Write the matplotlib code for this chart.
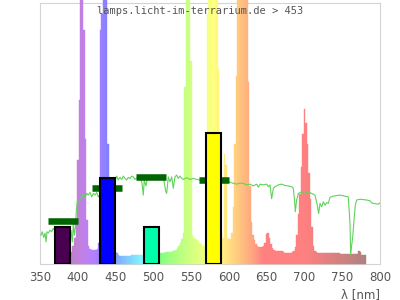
import matplotlib
matplotlib.use("Agg")
import matplotlib.pyplot as plt
import numpy as np

# lamp spectrum, 2 nm bins from 390 to 780 nm (100 = top of frame)
wavelength = np.arange(390, 782, 2)
intensity = [
    4, 4.5, 7, 10, 16, 40, 63, 150, 150, 90,
    48, 17, 7, 5.5, 5.2, 5.2, 5.2, 5.2, 5.5, 8,
    90, 96, 150, 150, 150, 46, 20, 8, 6, 5,
    4.5, 4, 3.5, 3, 3, 3, 3, 3, 3, 3,
    3, 3.2, 3.3, 3.3, 3.3, 3.3, 3.3, 3.3, 3.5, 3.8,
    4, 4, 4, 4, 4, 4, 4, 4, 4.1, 4.2,
    4.2, 4.3, 4.3, 4.4, 4.4, 4.5, 4.6, 4.7, 4.8, 4.9,
    5.2, 6, 7, 8, 9.5, 12, 68, 150, 150, 150,
    78, 11, 10, 9.5, 9, 8.5, 8, 7.5, 7, 7,
    8, 96, 150, 150, 150, 150, 150, 150, 75, 25,
    12, 10, 42, 38, 10, 9.5, 9.5, 12, 22, 46,
    72, 150, 150, 150, 150, 150, 150, 150, 70, 30,
    16, 11, 9, 7.5, 6.8, 6.5, 6.5, 6.5, 6.8, 8,
    11.5, 12, 10, 7.5, 6, 5.3, 5, 5, 5, 5,
    4.8, 4.4, 4.3, 4.3, 4.3, 4.3, 4.3, 4.5, 5, 6.5,
    11, 19, 27, 37, 50, 59.5, 54, 46, 35, 25,
    14, 7, 5, 4.5, 4, 4, 4, 4, 4, 4,
    4, 4, 4, 4, 4, 4, 4, 4, 4, 3.7,
    3.7, 3.7, 3.7, 3.7, 3.7, 3.7, 3.7, 3.7, 3.7, 3.7,
    3.7, 4.8, 4.5, 3.5, 3.5, 3.5,
]

# reference (daylight) curve
ref_nm = [351.3, 353, 354.9, 356.6, 358, 359.3, 361, 363.2, 365.4, 367.6, 369,
          375, 380, 385, 389,
          391, 392.8, 394.1, 395.4, 396.8, 398.1, 399.4, 400.7, 402.9, 405.2,
          407.3, 409.6, 411.8, 413.9, 416.2, 418.4, 420.5, 422.8, 425, 427.2,
          432, 436, 440, 444, 448,
          451.5, 453.6, 455.9, 458.1, 460.3, 462.5, 464.7, 466.9, 469.1, 471.4,
          473.5, 475.7, 478, 482, 485, 486.7, 488, 490.3, 492, 496, 500, 505,
          510, 514, 516.3, 517.6, 519.8, 522, 524.3, 526.4, 528.7, 530.9, 533,
          535.3, 537.5, 539.7, 544.1, 548.5, 552.9, 557.4, 565, 575, 585, 595,
          600.2, 605, 610.3, 615, 619.1, 623.5, 627.9, 632.3, 636.8, 638.9,
          641.2, 645.5, 650, 652.2, 654.4, 656.6, 658.8, 661, 665.4, 669.9,
          674.2, 678.6, 683.1, 685.2, 687.1, 687.9, 689.7, 691.9, 696.3, 700.7,
          705.1, 709.6, 713.9, 717, 718.8, 720.6, 722.8, 725, 727.2, 729.4,
          731.6, 733.8, 738.2, 747, 753.7, 758, 760.3, 761.2, 762.5, 763.9,
          765.6, 767.3, 769.2, 773.5, 782.4, 786.7, 789, 793.4, 797.7, 800]
ref_val = [11, 12.3, 10.1, 11.8, 8.4, 12.3, 11.8, 12.9, 12.3, 13.6, 12.9,
           13, 12, 13, 12,
           12.9, 8.4, 15.5, 11, 14.2, 20.6, 23.8, 23.2, 24.5, 25.7,
           27, 25.5, 27, 26.4, 27.4, 25.7, 27, 26.4, 27.4, 25.7,
           28, 27, 29, 30, 31,
           33.7, 32.2, 33.2, 32.4, 33.7, 32.8, 32.2, 33.2, 32.7, 33.7,
           33.4, 32.4, 33, 33.5, 31, 26.4, 32, 29.9, 33, 33.5, 33, 33.3,
           33, 32, 28, 27, 33.4, 31.5, 33.4, 29, 33.4, 34.1, 32.8,
           33.7, 32.8, 32.4, 33.1, 32.4, 32.8, 32.4, 32, 32, 31.5, 31.5,
           31.5, 31, 30.6, 31, 30.9, 30.3, 30.6, 29.9, 30.6, 29.4,
           30.6, 30.3, 30.6, 29.6, 30.3, 25, 29, 29.6, 30.3, 30.6,
           30.1, 29.9, 29.6, 29, 23.8, 20, 24.5, 27, 27.7, 27,
           27.7, 27, 26.4, 22.5, 19.3, 23.2, 21.9, 23.8, 22.5, 23.5,
           23.2, 25.5, 26, 26.4, 26, 25.7, 15.5, 3.3, 7.1, 10.3,
           16.8, 22.5, 24.5, 24.8, 24.5, 24.2, 23.4, 23.1, 22.9, 23.4]

# measured bands
band_center = [380, 439, 497, 580]
band_value = [14, 32.8, 14.1, 50.2]
band_target = [16.5, 29, 33.2, 32.1]
band_color = ['#4a0050', '#0000ff', '#00ffaa', '#ffff00']


def wl_rgb(w):
    if w < 440:
        r, g, b = (440 - w) / 60, 0, 1
    elif w < 490:
        r, g, b = 0, (w - 440) / 50, 1
    elif w < 510:
        r, g, b = 0, 1, (510 - w) / 20
    elif w < 580:
        r, g, b = (w - 510) / 70, 1, 0
    elif w < 645:
        r, g, b = 1, (645 - w) / 65, 0
    else:
        r, g, b = 1, 0, 0
    if w < 420:
        f = 0.3 + 0.7 * (w - 380) / 40
    elif w > 700:
        f = 0.3 + 0.7 * (780 - w) / 80
    else:
        f = 1
    rgb = np.array([(max(c, 0) * f) ** 0.8 for c in (r, g, b)])
    return 0.5 * rgb + 0.5


fig = plt.figure(figsize=(4, 3), dpi=100)
ax = fig.add_axes([0.1, 0.1207, 0.85, 0.8677])

cols = [wl_rgb(w) for w in wavelength]
ax.bar(wavelength, intensity, width=2, color=cols, edgecolor=cols,
       linewidth=0.3, clip_on=False, zorder=3)

ax.plot(ref_nm, ref_val, color='#5fd35a', linewidth=0.8, zorder=4)

ax.hlines(band_target, np.array(band_center) - 20, np.array(band_center) + 20,
          colors='#006400', linewidth=4.7, zorder=5)
ax.bar(band_center, band_value, width=20, color=band_color,
       edgecolor='black', linewidth=1.5, zorder=6)

ax.set_xlim(350, 800)
ax.set_ylim(0, 100)
ax.set_yticks([])
ax.set_xticks(range(350, 801, 50))
ax.tick_params(axis='x', length=0, pad=5, labelsize=8.5, labelcolor='#555555')
for s in ax.spines.values():
    s.set_color('#d4d4d4')
    s.set_linewidth(0.8)

fig.text(0.95, 1 - 295 / 300, 'λ [nm]', ha='right', va='center',
         fontsize=8.5, color='#555555')
fig.text(0.5, 1 - 11.5 / 300, 'lamps.licht-im-terrarium.de > 453',
         ha='center', va='center', family='DejaVu Sans Mono',
         fontsize=7.5, color='#555555')

fig.savefig('out.png', dpi=100)
